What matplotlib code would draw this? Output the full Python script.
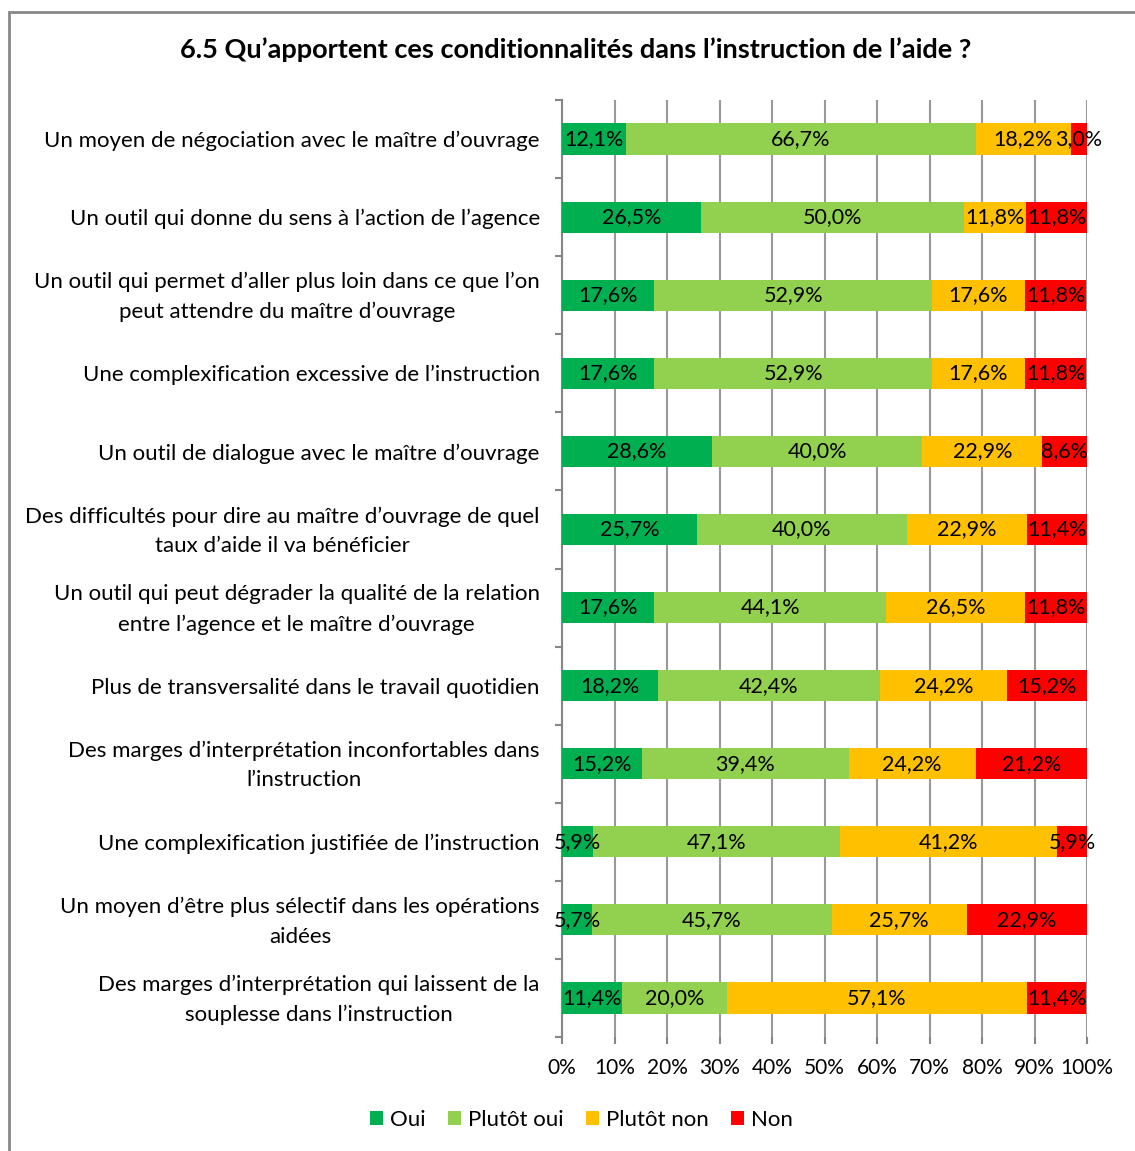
import matplotlib
matplotlib.use("Agg")
import matplotlib.pyplot as plt
from matplotlib.patches import Rectangle, Patch
import matplotlib.transforms as mtransforms
import numpy as np

plt.rcParams['font.family'] = ['Lato', 'DejaVu Sans']

title = "6.5 Qu\u2019apportent ces conditionnalités dans l\u2019instruction de l\u2019aide ?"

categories = [
    "Un moyen de négociation avec le maître d\u2019ouvrage",
    "Un outil qui donne du sens à l\u2019action de l\u2019agence",
    "Un outil qui permet d\u2019aller plus loin dans ce que l\u2019on\npeut attendre du maître d\u2019ouvrage",
    "Une complexification excessive de l\u2019instruction",
    "Un outil de dialogue avec le maître d\u2019ouvrage",
    "Des difficultés pour dire au maître d\u2019ouvrage de quel\ntaux d\u2019aide il va bénéficier",
    "Un outil qui peut dégrader la qualité de la relation\nentre l\u2019agence et le maître d\u2019ouvrage",
    "Plus de transversalité dans le travail quotidien",
    "Des marges d\u2019interprétation inconfortables dans\nl\u2019instruction",
    "Une complexification justifiée de l\u2019instruction",
    "Un moyen d\u2019être plus sélectif dans les opérations\naidées",
    "Des marges d\u2019interprétation qui laissent de la\nsouplesse dans l\u2019instruction",
]

series_names = ["Oui", "Plutôt oui", "Plutôt non", "Non"]
oui        = [12.1, 26.5, 17.6, 17.6, 28.6, 25.7, 17.6, 18.2, 15.2, 5.9, 5.7, 11.4]
plutot_oui = [66.7, 50.0, 52.9, 52.9, 40.0, 40.0, 44.1, 42.4, 39.4, 47.1, 45.7, 20.0]
plutot_non = [18.2, 11.8, 17.6, 17.6, 22.9, 22.9, 26.5, 24.2, 24.2, 41.2, 25.7, 57.1]
non        = [3.0, 11.8, 11.8, 11.8, 8.6, 11.4, 11.8, 15.2, 21.2, 5.9, 22.9, 11.4]
colors = ["#00B050", "#92D050", "#FFC000", "#FF0000"]
xtick_labels = ["0%", "10%", "20%", "30%", "40%", "50%", "60%", "70%", "80%", "90%", "100%"]

W, H = 1135, 1151
fig = plt.figure(figsize=(W / 100, H / 100), dpi=100)
ax = fig.add_axes([562 / W, 1 - 1037 / H, (1087 - 562) / W, (1037 - 100) / H])

y = np.arange(len(categories))
left = np.zeros(len(categories))
for name, vals, col in zip(series_names, [oui, plutot_oui, plutot_non, non], colors):
    vals = np.array(vals)
    ax.barh(y, vals, left=left, height=0.4, color=col, label=name, zorder=3)
    for yi, (l, v) in enumerate(zip(left, vals)):
        ax.text(l + v / 2, yi, f"{v:.1f}".replace('.', ',') + '%', ha='center', va='center',
                fontsize=15.5, color='black', zorder=4)
    left += vals

ax.set_xlim(0, 100)
ax.set_ylim(len(categories) - 0.5, -0.5)
ax.set_xticks(np.arange(0, 101, 10))
ax.set_xticklabels(xtick_labels, fontsize=15)
ax.set_yticks(y)
ax.set_yticklabels(categories, fontsize=16, multialignment='center', linespacing=1.6)
ax.set_yticks(np.arange(-0.5, len(categories), 1), minor=True)
ax.tick_params(axis='y', which='major', length=0, pad=16)
ax.tick_params(axis='y', which='minor', length=5, width=1.5, color='#868686')
ax.tick_params(axis='x', length=5, width=1.5, color='#868686', pad=10)
ax.grid(axis='x', color='#999999', linewidth=1.5, zorder=0)
ax.set_axisbelow(True)
for s in ['top', 'right', 'bottom']:
    ax.spines[s].set_visible(False)
ax.spines['left'].set_color('#868686')
ax.spines['left'].set_linewidth(1.5)

# nudge two-line labels up slightly so their lines straddle the bar centre
shift = mtransforms.ScaledTranslation(0, 5 / 100, fig.dpi_scale_trans)
for lab in ax.get_yticklabels():
    if "\n" in lab.get_text():
        lab.set_transform(lab.get_transform() + shift)

fig.text(0.507, 1 - 50 / H, title, ha='center', va='center', fontsize=19.5, fontweight='bold')

handles = [Patch(facecolor=c, label=n) for n, c in zip(series_names, colors)]
fig.legend(handles=handles, loc='center', bbox_to_anchor=(0.512, 1 - 1120 / H), ncol=4,
           frameon=False, fontsize=16, handlelength=0.6, handleheight=0.6,
           handletextpad=0.3, columnspacing=1.0)

fig.patches.append(Rectangle((9 / W, -0.1), 1.2, 1 - 12 / H + 0.1, transform=fig.transFigure,
                             fill=False, edgecolor='#888888', linewidth=2))

fig.savefig("out.png", dpi=100)
